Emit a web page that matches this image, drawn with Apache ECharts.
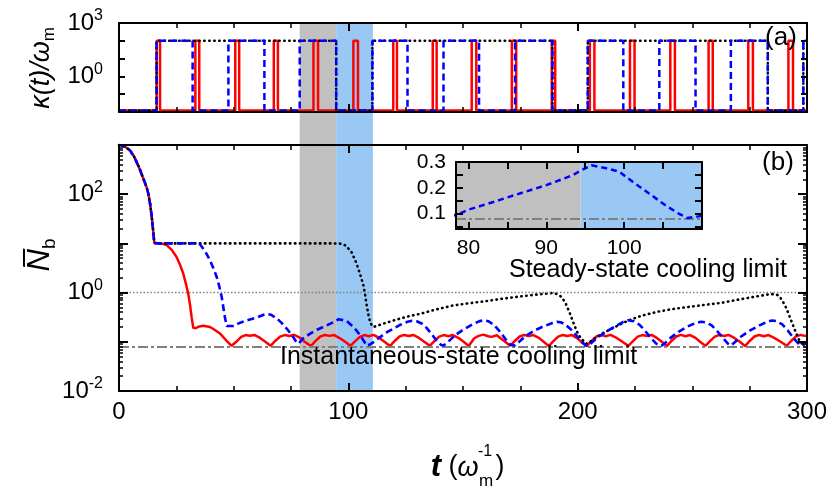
<!DOCTYPE html>
<html><head><meta charset="utf-8">
<script src="https://cdn.jsdelivr.net/npm/echarts@6/dist/echarts.min.js"></script>
<style>html,body{margin:0;padding:0;background:#fff}#c{width:835px;height:490px}</style>
</head><body><div id="c"></div>
<script>
// ---------------- data ----------------
const bandGray = [78.8, 94.7];
const bandBlue = [94.7, 110.7];
const insetBandGray = [78.4, 94.4];
const insetBandBlue = [94.4, 110];
const steadyLimit = 1;
const instLimit = 0.078;

// panel (a): kappa(t)/omega_m switching sequences [t, kappa]
const kappaRed = [[0,0.012],[16.4,100],[17.9,0.012],[33.3,100],[35,0.012],[50.7,100],[52.4,0.012],[67.5,100],[69.3,0.012],[84.8,100],[86.8,0.012],[102.2,100],[104.2,0.012],[119.6,100],[121.2,0.012],[136.8,100],[138.5,0.012],[153.8,100],[155.8,0.012],[171.3,100],[173.2,0.012],[188.7,100],[190.2,0.012],[205.3,100],[207.3,0.012],[222.8,100],[224.8,0.012],[240.4,100],[242.4,0.012],[257.1,100],[258.9,0.012],[274.4,100],[276.4,0.012],[291.9,100],[293.9,0.012],[300,0.012]];
const kappaBlack = [[0,0.012],[16.4,100],[94.7,0.012],[110.5,100],[189,0.012],[204.4,100],[282.9,0.012],[298.4,100],[300,100]];
const kappaBlue = [[0,0.012],[16.4,100],[32.1,0.012],[47.7,100],[63.4,0.012],[78.8,100],[94.7,0.012],[110.5,100],[125.8,0.012],[141.5,100],[157,0.012],[172.7,100],[189,0.012],[204.4,100],[219.9,0.012],[235.6,100],[251.4,0.012],[266.8,100],[282.9,0.012],[298.4,100],[300,100]];

// panel (b): mean phonon number N_b(t)
const initN = [[0,1000],[1.5,975],[3,900],[4.8,776],[6.5,590],[8.7,355],[10.5,215],[12,140],[12.8,102],[13.6,62],[14.3,34],[14.9,18],[15.4,10.2]];
const redN = [[17,10],[19,9.8],[20.8,9.2],[23,7.4],[25.1,5.3],[26.6,3.7],[28,2.44],[29.2,1.5],[30.2,0.95],[31,0.55],[31.7,0.31],[32.4,0.19],[33.5,0.19],[35,0.205],[36.8,0.212],[38.5,0.205],[39.7,0.2],[42,0.172],[44,0.148],[46.5,0.11],
[49.1,0.083],[51.1,0.1],[53.3,0.126],[55.2,0.137],[57.1,0.133],[59,0.138],[61.5,0.12],[63.8,0.1],
[66.1,0.083],[68.1,0.104],[70.2,0.127],[72.2,0.137],[74.5,0.131],[76.3,0.139],[78.8,0.121],[81.1,0.099],
[83.7,0.082],[85.6,0.103],[87.8,0.128],[89.8,0.138],[91.8,0.132],[93.8,0.137],[96.2,0.119],[98.6,0.1],
[100.9,0.083],[102.9,0.102],[105,0.126],[107,0.137],[109,0.13],[111,0.138],[113.5,0.12],[115.9,0.099],
[118.2,0.082],[120.2,0.104],[122.3,0.128],[124.3,0.138],[126.4,0.131],[128.3,0.138],[130.8,0.12],[133.1,0.1],
[135.5,0.083],[137.5,0.103],[139.6,0.127],[141.6,0.137],[143.6,0.13],[145.6,0.137],[148.1,0.119],[150.3,0.1],
[152.5,0.082],[154.9,0.118],[156.8,0.132],[158.9,0.14],[161,0.13],[162.5,0.126],[164.7,0.136],[167.5,0.108],
[170.6,0.083],[172.6,0.104],[174.7,0.128],[176.7,0.138],[178.7,0.131],[180.7,0.137],[183.1,0.12],[185.3,0.099],
[187.4,0.082],[189.4,0.103],[191.5,0.127],[193.5,0.138],[195.5,0.131],[197.5,0.137],[199.6,0.12],[201.8,0.098],
[204,0.082],[206,0.104],[208.2,0.128],[210.2,0.138],[212.3,0.13],[214.3,0.138],[216.8,0.121],[219.5,0.1],
[222.1,0.083],[224.1,0.103],[226.2,0.127],[228.2,0.137],[230.2,0.131],[232.2,0.138],[234.5,0.12],[236.7,0.1],
[238.9,0.082],[240.9,0.104],[243,0.128],[245,0.138],[247,0.13],[249,0.137],[251.4,0.12],[253.5,0.099],
[255.7,0.083],[257.7,0.103],[259.8,0.127],[261.8,0.138],[263.8,0.131],[265.8,0.138],[268.3,0.12],[270.7,0.1],
[273,0.082],[275,0.104],[277.1,0.128],[279.1,0.138],[281.2,0.13],[283.2,0.137],[285.7,0.12],[288.5,0.1],
[291.2,0.083],[293.2,0.105],[295.3,0.13],[297.3,0.138],[299,0.132],[300,0.135]];
const blueN = [[17,10],[20,10],[25,10],[30,10],[33,10],[35.3,9.6],[37.5,7],[39.7,4.5],[41.2,3.1],[42.6,2.08],[43.8,1.3],[44.8,0.81],[45.5,0.5],[46.2,0.31],[47,0.21],[47.7,0.195],[50,0.21],[52.8,0.245],[56,0.275],[60,0.31],[63.4,0.36],[64.6,0.37],[66.2,0.355],[68.8,0.3],[71,0.24],[73.1,0.186],[75.5,0.135],[77.3,0.1],
[78.4,0.092],[79.8,0.113],[83.2,0.145],[86.6,0.178],[90,0.21],[93.4,0.249],[94.5,0.268],[95.8,0.287],[97.7,0.276],[99.4,0.262],[101.1,0.223],[103.2,0.178],[105.3,0.132],[107,0.1],[108.1,0.083],[109.4,0.088],
[110.5,0.095],[113,0.117],[116.7,0.155],[120,0.19],[123,0.225],[125.8,0.255],[127.8,0.268],[129.8,0.262],[132,0.235],[134.2,0.19],[136.5,0.14],[138.6,0.104],[140.5,0.086],[141.5,0.084],
[143,0.095],[146.5,0.135],[150,0.175],[154,0.225],[157,0.26],[158.9,0.274],[161,0.262],[163.5,0.222],[166,0.163],[168.5,0.114],[170.5,0.088],[172.7,0.084],
[174.5,0.1],[177,0.128],[181,0.168],[185,0.205],[189,0.24],[191,0.254],[192.6,0.25],[194.5,0.228],[197,0.18],[199.5,0.133],[202,0.097],[203.9,0.082],
[205.5,0.09],[208,0.115],[211,0.145],[215,0.19],[219.9,0.255],[222.1,0.275],[224.5,0.262],[227,0.222],[229.5,0.165],[232,0.118],[234.5,0.09],[236.5,0.083],
[238,0.093],[240.5,0.12],[244,0.16],[248,0.205],[251.6,0.242],[253.8,0.255],[255.8,0.248],[258.3,0.218],[260.8,0.166],[263.3,0.12],[265.5,0.092],[266.8,0.084],
[268.5,0.098],[271,0.125],[275,0.168],[279,0.212],[282.9,0.258],[284.7,0.272],[286.7,0.263],[289.2,0.226],[291.7,0.168],[294.2,0.118],[296.5,0.09],[298,0.083],[299,0.09],[300,0.1]];
const blackN = [[17,10],[25,10],[35,10],[50,10],[65,10],[80,10],[92,10],[96.4,9.9],[99,9],[101.5,6.5],[103.6,3.9],[105.2,2.3],[106.6,1.4],[107.4,0.85],[108,0.55],[108.8,0.35],[109.6,0.24],[110.9,0.2],
[113,0.215],[116,0.24],[119.6,0.27],[125,0.32],[131.3,0.37],[138,0.45],[145.8,0.55],[153,0.61],[161,0.68],[168,0.76],[175.5,0.84],[182,0.91],[188.6,0.98],
[190.5,0.95],[193,0.82],[194.8,0.6],[196.7,0.37],[198.5,0.22],[200.3,0.14],[202,0.11],[203.2,0.098],[204.2,0.09],
[205.5,0.1],[207.5,0.118],[211,0.15],[216.3,0.2],[222,0.27],[227.9,0.34],[235,0.41],[241,0.46],[248.2,0.51],[255,0.56],[262.8,0.62],[270,0.72],[277,0.82],[283.9,0.93],[285.8,0.93],
[287.5,0.88],[289,0.72],[290.4,0.55],[291.5,0.42],[292.6,0.31],[293.7,0.23],[294.8,0.17],[296,0.125],[296.9,0.1],[298,0.09],[298.7,0.088],[300,0.095]];

// tick labels
const xTickLabels = [0, 100, 200, 300];
const aYLabelExps = [0, 3];
const bYLabelExps = [-2, 0, 2];
const insetXTickLabels = [80, 90, 100];
const insetYTickLabels = [0.1, 0.2, 0.3];

// ---------------- chart ----------------
const F = '"Liberation Sans", Arial, Helvetica, sans-serif';
const chart = echarts.init(document.getElementById('c'));
const AXZ = 1; // axes on their own canvas layer

const axLine = {show: true, onZero: false, lineStyle: {color: '#000', width: 2}};
const supRich = {
  b: {fontSize: 24, fontFamily: F, color: '#000', lineHeight: 30},
  s: {fontSize: 16, fontFamily: F, color: '#000', verticalAlign: 'top', lineHeight: 16}
};
function logFmt(exps) {
  return function (v) {
    const l = Math.log10(v), e = Math.round(l);
    if (Math.abs(l - e) < 1e-6 && exps.indexOf(e) >= 0) return '{b|10}{s|' + e + '}';
    return '';
  };
}
function listFmt(list) {
  return function (v) {
    for (const x of list) if (Math.abs(v - x) < 1e-6) return String(x);
    return '';
  };
}
function mainX(grid, pos, labels) {
  return {
    gridIndex: grid, type: 'value', position: pos, min: 0, max: 300, interval: 100, zlevel: AXZ,
    axisLine: axLine,
    axisTick: {show: true, inside: true, length: 8, lineStyle: {color: '#000', width: 2}},
    minorTick: {show: true, splitNumber: 4, length: 5, lineStyle: {color: '#000', width: 1.5}},
    axisLabel: labels ? {show: true, fontSize: 24, fontFamily: F, color: '#000', margin: 9, formatter: listFmt(xTickLabels)} : {show: false},
    splitLine: {show: false}
  };
}
function logY(grid, pos, exps, minor) {
  return {
    gridIndex: grid, type: 'log', logBase: 10, position: pos, min: 0.01, max: 1000, zlevel: AXZ,
    axisLine: axLine,
    axisTick: {show: true, inside: true, length: minor ? 9 : 6, lineStyle: {color: '#000', width: 2}},
    minorTick: minor ? {show: true, splitNumber: 9, length: 4, lineStyle: {color: '#000', width: 1.5}} : {show: false},
    axisLabel: exps ? {show: true, margin: 16, formatter: logFmt(exps), rich: supRich} : {show: false},
    splitLine: {show: false}, minorSplitLine: {show: false}
  };
}
function insetX(pos, labels) {
  return {
    gridIndex: 2, type: 'value', position: pos, min: 78.4, max: 110, splitNumber: 6, zlevel: AXZ,
    axisLine: axLine,
    axisTick: {show: true, inside: true, length: 7, lineStyle: {color: '#000', width: 2}},
    axisLabel: labels ? {show: true, fontSize: 21, fontFamily: F, color: '#000', margin: 9, showMinLabel: false, showMaxLabel: false, formatter: listFmt(insetXTickLabels)} : {show: false},
    splitLine: {show: false}
  };
}
function insetY(pos, labels) {
  return {
    gridIndex: 2, type: 'value', position: pos, min: 0.04, max: 0.3, splitNumber: 5, zlevel: AXZ,
    axisLine: axLine,
    axisTick: {show: true, inside: true, length: 7, lineStyle: {color: '#000', width: 2}},
    axisLabel: labels ? {show: true, fontSize: 21, fontFamily: F, color: '#000', margin: 10, showMinLabel: false, formatter: listFmt(insetYTickLabels)} : {show: false},
    splitLine: {show: false}
  };
}
function band(range, color) {
  return [{xAxis: range[0], itemStyle: {color: color}}, {xAxis: range[1]}];
}
const GRAY = '#c0c0c0', LBLUE = '#99c8f4';
const noSym = {showSymbol: false, symbol: 'none'};
const ctr = {align: 'center', verticalAlign: 'middle'};

const option = {
  animation: false,
  backgroundColor: '#fff',
  grid: [
    {left: 119, top: 23, width: 688, height: 89},
    {left: 119, top: 145, width: 688, height: 246},
    {left: 456, top: 162, width: 246, height: 67, z: 5},
    {left: 119, top: 23, width: 688, height: 368}
  ],
  xAxis: [
    mainX(0, 'bottom', false), mainX(0, 'top', false),
    mainX(1, 'bottom', true), mainX(1, 'top', false),
    insetX('bottom', true), insetX('top', false),
    {gridIndex: 3, type: 'value', min: 0, max: 300, show: false}
  ],
  yAxis: [
    logY(0, 'left', aYLabelExps, false), logY(0, 'right', null, false),
    logY(1, 'left', bYLabelExps, true), logY(1, 'right', null, true),
    insetY('left', true), insetY('right', false),
    {gridIndex: 3, type: 'value', min: 0, max: 1, show: false}
  ],
  series: [
    {type: 'line', xAxisIndex: 6, yAxisIndex: 6, data: [], z: 0, silent: true,
      markArea: {silent: true, data: [band(bandGray, GRAY), band(bandBlue, LBLUE)]}},
    // panel (a)
    Object.assign({type: 'line', name: 'kRed', xAxisIndex: 0, yAxisIndex: 0, step: 'end', data: kappaRed,
      lineStyle: {color: '#ff0000', width: 2.5}, z: 3}, noSym),
    Object.assign({type: 'line', name: 'kBlack', xAxisIndex: 0, yAxisIndex: 0, step: 'end', data: kappaBlack,
      lineStyle: {color: '#000', width: 2.5, type: [0.5, 4.5], cap: 'round'}, z: 4}, noSym),
    Object.assign({type: 'line', name: 'kBlue', xAxisIndex: 0, yAxisIndex: 0, step: 'end', data: kappaBlue,
      lineStyle: {color: '#0000ff', width: 2.5, type: [7, 4]}, z: 5}, noSym),
    // panel (b)
    {type: 'line', xAxisIndex: 2, yAxisIndex: 2, data: [], z: 2, silent: true,
      markLine: {silent: true, symbol: ['none', 'none'], label: {show: false}, data: [
        {yAxis: steadyLimit, lineStyle: {color: '#808080', width: 1.3, type: [1.5, 2]}},
        {yAxis: instLimit, lineStyle: {color: '#808080', width: 2, type: [10, 3, 3, 3]}}
      ]}},
    Object.assign({type: 'line', name: 'NRed', xAxisIndex: 2, yAxisIndex: 2, data: initN.concat(redN),
      lineStyle: {color: '#ff0000', width: 2.5}, z: 3}, noSym),
    Object.assign({type: 'line', name: 'NBlack', xAxisIndex: 2, yAxisIndex: 2, data: initN.concat(blackN),
      lineStyle: {color: '#000', width: 2.6, type: [0.5, 4.5], cap: 'round'}, z: 4}, noSym),
    Object.assign({type: 'line', name: 'NBlue', xAxisIndex: 2, yAxisIndex: 2, data: initN.concat(blueN),
      lineStyle: {color: '#0000ff', width: 2.6, type: [7, 4]}, z: 5}, noSym),
    // inset
    Object.assign({type: 'line', name: 'insetBlue', xAxisIndex: 4, yAxisIndex: 4, data: initN.concat(blueN), clip: true,
      lineStyle: {color: '#0000ff', width: 2.5, type: [6, 4]}, z: 8,
      markArea: {silent: true, z: 6, data: [band(insetBandGray, GRAY), band(insetBandBlue, LBLUE)]},
      markLine: {silent: true, z: 7, symbol: ['none', 'none'], label: {show: false}, data: [
        {yAxis: instLimit, lineStyle: {color: '#808080', width: 2.2, type: [10, 3, 3, 3]}}
      ]}}, noSym)
  ],
  graphic: [
    {type: 'text', x: 781, y: 38, z: 100, style: Object.assign({text: '(a)', fontSize: 26, fontFamily: F, fill: '#000'}, ctr)},
    {type: 'text', x: 778, y: 163, z: 100, style: Object.assign({text: '(b)', fontSize: 26, fontFamily: F, fill: '#000'}, ctr)},
    {type: 'text', x: 509, y: 270, z: 100, style: {text: 'Steady-state cooling limit', fontSize: 25, fontFamily: F, fill: '#000', align: 'left', verticalAlign: 'middle'}},
    {type: 'text', x: 280, y: 357, z: 100, style: {text: 'Instantaneous-state cooling limit', fontSize: 25, fontFamily: F, fill: '#000', align: 'left', verticalAlign: 'middle'}},
    {type: 'text', x: 41, y: 68, rotation: Math.PI / 2, z: 100, style: Object.assign({
      text: '{k|κ(t)/ω}{s|m}',
      rich: {k: {fontSize: 27, fontStyle: 'italic', fontFamily: F, fill: '#000', lineHeight: 34},
             s: {fontSize: 17, fontFamily: F, fill: '#000', verticalAlign: 'bottom', lineHeight: 17}}}, ctr)},
    {type: 'text', x: 40, y: 255, rotation: Math.PI / 2, z: 100, style: Object.assign({
      text: '{n|N\u0305}{s|b}',
      rich: {n: {fontSize: 31, fontStyle: 'italic', fontFamily: F, fill: '#000', lineHeight: 38},
             s: {fontSize: 19, fontFamily: F, fill: '#000', verticalAlign: 'bottom', lineHeight: 19}}}, ctr)},
    {type: 'text', x: 436, y: 467, z: 100, style: Object.assign({text: 't', fontSize: 31, fontStyle: 'italic', fontWeight: 'bold', fontFamily: F, fill: '#000'}, ctr)},
    {type: 'text', x: 453, y: 467, z: 100, style: Object.assign({text: '(', fontSize: 27, fontFamily: F, fill: '#000'}, ctr)},
    {type: 'text', x: 468, y: 468, z: 100, style: Object.assign({text: 'ω', fontSize: 27, fontStyle: 'italic', fontFamily: F, fill: '#000'}, ctr)},
    {type: 'text', x: 485, y: 452, z: 100, style: Object.assign({text: '-1', fontSize: 16, fontFamily: F, fill: '#000'}, ctr)},
    {type: 'text', x: 486, y: 481, z: 100, style: Object.assign({text: 'm', fontSize: 17, fontFamily: F, fill: '#000'}, ctr)},
    {type: 'text', x: 500, y: 467, z: 100, style: Object.assign({text: ')', fontSize: 27, fontFamily: F, fill: '#000'}, ctr)}
  ]
};
chart.setOption(option);
</script>
</body></html>
